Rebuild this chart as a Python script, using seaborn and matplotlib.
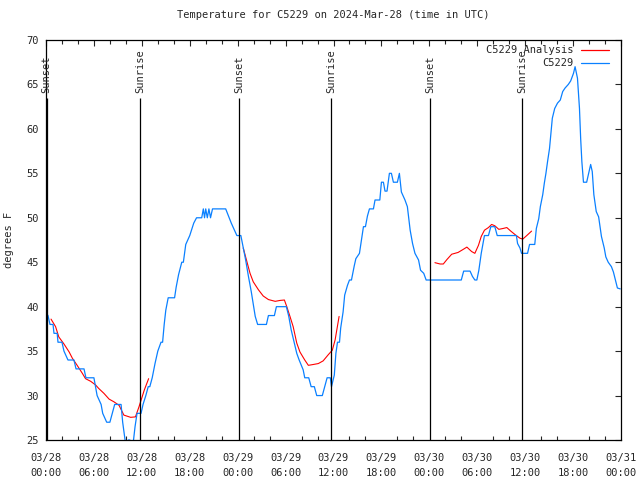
import numpy as np
import pandas as pd
import seaborn as sns
import matplotlib.pyplot as plt

# hours since 2024-03-28 00:00 UTC
obs_hours = [0.0, 0.25, 0.5, 0.88, 1.0, 1.4, 1.5, 2.0, 2.25, 2.75, 3.5, 3.76, 4.76, 5.0, 6.0, 6.4, 6.9, 7.1, 7.6, 8.0,
             8.3, 8.6, 9.4, 9.6, 9.9, 10.1, 10.3, 10.5, 10.7, 10.96, 11.15, 11.4, 11.65, 11.9, 12.15, 12.5, 12.8, 13.0,
             13.3, 13.65, 14.0, 14.4, 14.6, 14.8, 15.0, 15.3, 16.1, 16.3, 16.6, 17.0, 17.2, 17.5, 18.0, 18.5, 18.85,
             19.5, 19.7, 19.85, 20.0, 20.2, 20.4, 20.6, 20.85, 22.5, 22.85, 23.2, 23.7, 23.9, 24.4, 24.7, 25.0, 25.35,
             25.7, 26.0, 26.2, 26.5, 27.6, 27.85, 28.6, 28.85, 30.1, 30.4, 30.7, 31.1, 31.4, 31.7, 32.2, 32.4, 32.9,
             33.2, 33.6, 33.9, 34.6, 34.9, 35.2, 35.6, 35.75, 36.1, 36.3, 36.5, 36.75, 36.9, 37.2, 37.4, 37.75, 38.0,
             38.25, 38.6, 38.8, 39.25, 39.5, 39.75, 40.0, 40.25, 40.5, 41.0, 41.2, 41.8, 42.0, 42.25, 42.45, 42.7,
             43.0, 43.25, 43.5, 44.0, 44.25, 44.5, 44.95, 45.25, 45.6, 45.9, 46.2, 46.65, 46.9, 47.3, 47.6, 52.0,
             52.3, 53.1, 53.4, 53.7, 53.95, 54.2, 54.5, 54.9, 55.4, 55.7, 56.2, 56.5, 58.9, 59.05, 59.35, 59.55, 60.3,
             60.55, 61.2, 61.4, 61.7, 61.9, 62.2, 62.4, 62.6, 62.8, 63.05, 63.2, 63.4, 63.7, 64.05, 64.4, 64.7, 65.0,
             65.4, 65.7, 66.05, 66.25, 66.55, 66.8, 66.95, 67.1, 67.3, 67.7, 67.9, 68.2, 68.4, 68.6, 68.9, 69.2,
             69.4, 69.55, 69.9, 70.1, 70.4, 70.8, 71.05, 71.25, 71.55, 71.9]
obs_temps = [39.3, 39, 38, 38, 37, 37, 36, 36, 35, 34, 34, 33, 33, 32, 32, 30, 29, 28, 27, 27,
             28, 29, 29, 27, 25, 24, 25, 25, 24, 25, 26.5, 28, 28, 28, 29, 30, 31, 31,
             32, 33.6, 35, 36, 36, 38, 39.6, 41, 41, 42.2, 43.6, 45, 45, 47, 48, 49.4, 50,
             50, 51, 50, 51, 50, 51, 50, 51, 51, 50.2, 49.4, 48.4, 48, 48, 46.6, 45.25, 43.4,
             41.7, 40, 38.9, 38, 38, 39, 39, 40, 40, 38.9, 37.4, 35.9, 34.75, 34, 32.9, 32, 32,
             31, 31, 30, 30, 31, 32, 32, 31, 32.3, 34.75, 36, 36, 37.6, 39.4, 41.3, 42.4, 43,
             43, 44.6, 45.4, 46, 47.5, 49, 49, 50.2, 51, 51, 52, 52, 54, 54, 53, 53,
             55, 55, 54, 54, 55, 52.9, 52, 51.25, 48.6, 47.1, 46, 45.25, 44.1, 43.75, 43, 43,
             44, 44, 43.4, 43, 43, 44.1, 46, 48, 48, 49, 49, 48, 48, 47.1, 46.6, 46, 46,
             47, 47, 48.8, 49.9, 51.25, 52.6, 53.9, 55, 56.3, 57.8, 59.3, 61.2, 62.3, 62.9, 63.25, 64.2, 64.6, 65,
             65.4, 66.25, 67, 65.7, 62.3, 58.9, 56.3, 54, 54, 54.8, 56, 55.2, 52.6, 50.7, 50.1,
             48.8, 47.9, 46.6, 45.6, 45, 44.5, 43.9, 43.2, 42.1, 42]

ana_hours_1 = [0.63, 1.2, 1.6, 2.25, 2.9, 3.3, 3.9, 4.55, 4.95, 5.6, 6.2, 6.6, 7.25, 7.9, 8.5, 9.15, 9.75, 10.6,
               11.2, 11.65, 12.3, 12.85]
ana_temps_1 = [38.6, 37.75, 36.6, 35.8, 34.9, 34.2, 33.4, 32.5, 31.9, 31.6, 31.2, 30.8, 30.25, 29.6, 29.3, 28.9,
               27.8, 27.55, 27.6, 28.75, 30.6, 31.9]
ana_hours_2 = [24.7, 25.1, 25.55, 25.95, 26.6, 27.2, 27.85, 28.7, 29.3, 29.85, 30.15, 30.55, 30.95, 31.4, 31.8,
               32.4, 32.85, 33.5, 34.1, 34.7, 35.35, 35.85, 36.2, 36.7]
ana_temps_2 = [46.6, 45.25, 43.75, 42.8, 41.9, 41.2, 40.8, 40.6, 40.7, 40.75, 40.0, 38.9, 37.75, 35.9, 34.9,
               34.0, 33.4, 33.5, 33.6, 33.9, 34.6, 35.1, 36.25, 38.9]
ana_hours_3 = [48.7, 49.35, 49.75, 50.2, 50.8, 51.6, 52.25, 52.7, 53.3, 53.7, 54.15, 54.5, 54.9, 55.4, 55.8,
               56.2, 56.7, 57.25, 57.7, 58.2, 58.8, 59.35, 59.7, 60.2, 60.8]
ana_temps_3 = [44.95, 44.8, 44.8, 45.3, 45.9, 46.1, 46.45, 46.7, 46.2, 46.0, 46.9, 47.9, 48.6, 48.9, 49.25,
               49.1, 48.7, 48.8, 48.9, 48.5, 48.06, 47.7, 47.6, 48.0, 48.5]

sun_hours = [0.08, 11.77, 24.2, 35.7, 48.12, 59.65]
sun_labels = ['Sunset', 'Sunrise', 'Sunset', 'Sunrise', 'Sunset', 'Sunrise']

tick_hours = list(range(0, 73, 6))
tick_labels = ['03/28\n00:00', '03/28\n06:00', '03/28\n12:00', '03/28\n18:00',
               '03/29\n00:00', '03/29\n06:00', '03/29\n12:00', '03/29\n18:00',
               '03/30\n00:00', '03/30\n06:00', '03/30\n12:00', '03/30\n18:00',
               '03/31\n00:00']

sns.set_style('white')
plt.rcParams['font.family'] = ['DejaVu Sans Mono']
plt.rcParams['font.size'] = 7.5

obs = pd.DataFrame({'hour': obs_hours, 'temp': obs_temps})
ana = pd.concat([
    pd.DataFrame({'hour': ana_hours_1, 'temp': ana_temps_1, 'seg': 1}),
    pd.DataFrame({'hour': ana_hours_2, 'temp': ana_temps_2, 'seg': 2}),
    pd.DataFrame({'hour': ana_hours_3, 'temp': ana_temps_3, 'seg': 3}),
])

fig = plt.figure(figsize=(6.4, 4.8), dpi=100)
ax = fig.add_axes([46 / 640, 40 / 480, 575 / 640, 400 / 480])

sns.lineplot(data=ana, x='hour', y='temp', units='seg', estimator=None, color='#ff0000', lw=0.8, ax=ax)
sns.lineplot(data=obs, x='hour', y='temp', color='#0a80ff', lw=0.9, ax=ax)

for h, lab in zip(sun_hours, sun_labels):
    ax.vlines(h, 25, 63.5, color='black', lw=0.9)
    ax.text(h, 64.0, lab, rotation=90, ha='center', va='bottom', fontsize=7.5)

ax.set_xlim(0, 72)
ax.set_ylim(25, 70)
ax.set_xticks(tick_hours)
ax.set_xticklabels(tick_labels, linespacing=1.75)
ax.set_xticks(np.arange(0, 73, 2), minor=True)
ax.set_yticks(range(25, 71, 5))
ax.tick_params(direction='in', top=True, right=True, length=4, width=0.8, pad=9)
ax.tick_params(which='minor', direction='in', top=True, bottom=True, length=3, width=0.8)
ax.tick_params(axis='y', pad=5)
for s in ax.spines.values():
    s.set_color('black')
    s.set_linewidth(0.9)

ax.set_xlabel('')
ax.set_ylabel('degrees F', labelpad=9)
ax.set_title('Temperature for C5229 on 2024-Mar-28 (time in UTC)', fontsize=7.5, pad=16)

# legend drawn by hand: text right aligned, sample line on the right
ax.text(0.917, 0.975, 'C5229 Analysis', transform=ax.transAxes, ha='right', va='center', fontsize=7.5)
ax.text(0.917, 0.942, 'C5229', transform=ax.transAxes, ha='right', va='center', fontsize=7.5)
ax.plot([0.930, 0.979], [0.975, 0.975], transform=ax.transAxes, color='#ff0000', lw=0.9)
ax.plot([0.930, 0.979], [0.942, 0.942], transform=ax.transAxes, color='#0a80ff', lw=0.9)

if ax.get_legend() is not None:
    ax.get_legend().remove()

fig.savefig('out.png', dpi=100)
